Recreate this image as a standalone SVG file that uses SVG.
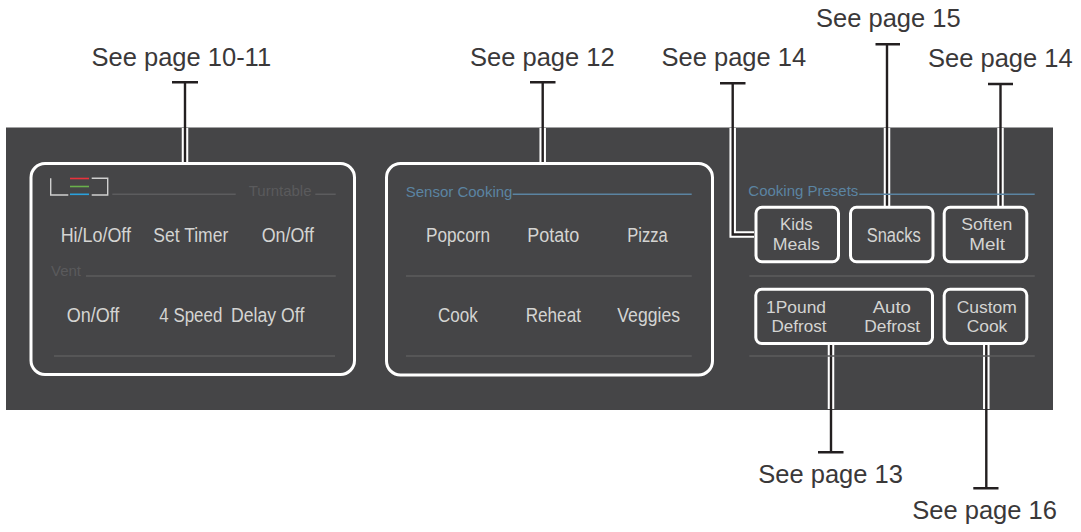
<svg xmlns="http://www.w3.org/2000/svg" width="1081" height="532" viewBox="0 0 1081 532">
<style>
.lbl{font-family:"Liberation Sans",Arial,sans-serif;font-size:25.5px;fill:#3a3839}
.btn{font-family:"Liberation Sans",Arial,sans-serif;font-size:19.5px;fill:#d4d4d2;text-anchor:middle}
.btn2{font-family:"Liberation Sans",Arial,sans-serif;font-size:17px;fill:#d4d4d2;text-anchor:middle}
.dim{font-family:"Liberation Sans",Arial,sans-serif;font-size:15px;fill:#5a5a5c}
.blue{font-family:"Liberation Sans",Arial,sans-serif;font-size:15px;fill:#5b84a2}
.box{fill:none;stroke:#ffffff;stroke-width:3}
.sep{stroke:#5c5c5e;stroke-width:1.4;fill:none}
.bsep{stroke:#5b84a2;stroke-width:1.6;fill:none}
.halo{stroke:#ffffff;stroke-width:6.5;fill:none}
.wire{stroke:#231f20;stroke-width:2.4;fill:none}
.tick{stroke:#231f20;stroke-width:2.4;fill:none}
</style>
<rect x="0" y="0" width="1081" height="532" fill="#ffffff"/>
<rect id="panel" x="6" y="127.5" width="1047" height="282.5" fill="#454547"/>

<g id="connectors">
  <path class="halo" d="M185 128V162 M542.7 128V162 M732.7 128V234.5H754 M887 128V206 M1000.5 128V206 M831 345V409 M986.3 345V409"/>
  <path class="wire" d="M185 82V162 M542.7 82V162 M732.7 83V234.5H754 M887 44.3V206 M1000.5 84V206 M831 345V452.3 M986.3 345V488.3"/>
  <path class="tick" d="M172 82.3H198 M530 82.3H555.5 M720 83.3H745.5 M875.5 44.3H900 M988 84H1013 M818 452.3H843.5 M973.3 488.3H998.5"/>
</g>

<g id="labels">
  <text class="lbl" x="91.5" y="66">See page 10-11</text>
  <text class="lbl" x="470" y="66">See page 12</text>
  <text class="lbl" x="661.5" y="66">See page 14</text>
  <text class="lbl" x="816" y="26.7">See page 15</text>
  <text class="lbl" x="928" y="66.7">See page 14</text>
  <text class="lbl" x="758.3" y="483.3">See page 13</text>
  <text class="lbl" x="912.3" y="519.3">See page 16</text>
</g>

<g id="vent-group">
  <rect class="box" x="31" y="163.5" width="323.5" height="211" rx="14"/>
  <path d="M50.7 178.3V195H68.3 M91.7 178.3H107.7V195H91.7" stroke="#cfcfcf" stroke-width="1.4" fill="none"/>
  <path d="M70 178.5H89" stroke="#e8323c" stroke-width="1.6"/>
  <path d="M70 186.5H89" stroke="#6ab04c" stroke-width="1.6"/>
  <path d="M70 194.3H89" stroke="#2aa1dc" stroke-width="1.6"/>
  <path class="sep" d="M112.3 194.3H235.7 M315.3 194.3H335.7 M86 276H335.7 M54 356H335"/>
  <text class="dim" x="248.7" y="195.7">Turntable</text>
  <text class="dim" x="51" y="276">Vent</text>
  <text class="btn" x="95.8" y="241.7" textLength="70.3" lengthAdjust="spacingAndGlyphs">Hi/Lo/Off</text>
  <text class="btn" x="190.8" y="241.7" textLength="75" lengthAdjust="spacingAndGlyphs">Set Timer</text>
  <text class="btn" x="287.8" y="241.7" textLength="52.3" lengthAdjust="spacingAndGlyphs">On/Off</text>
  <text class="btn" x="93" y="322.3" textLength="52.7" lengthAdjust="spacingAndGlyphs">On/Off</text>
  <text class="btn" x="190.8" y="322.3" textLength="63" lengthAdjust="spacingAndGlyphs">4 Speed</text>
  <text class="btn" x="267.7" y="322.3" textLength="73.3" lengthAdjust="spacingAndGlyphs">Delay Off</text>
</g>

<g id="sensor-group">
  <rect class="box" x="386.5" y="163.5" width="326" height="211.5" rx="14"/>
  <text class="blue" x="405.7" y="196.7">Sensor Cooking</text>
  <path class="bsep" d="M512.7 194.3H691.7"/>
  <path class="sep" d="M406 276H691.7 M406 356H691.7"/>
  <text class="btn" x="458" y="241.7" textLength="64" lengthAdjust="spacingAndGlyphs">Popcorn</text>
  <text class="btn" x="553.3" y="241.7" textLength="52" lengthAdjust="spacingAndGlyphs">Potato</text>
  <text class="btn" x="647.5" y="241.7" textLength="40.4" lengthAdjust="spacingAndGlyphs">Pizza</text>
  <text class="btn" x="457.8" y="322.3" textLength="39.7" lengthAdjust="spacingAndGlyphs">Cook</text>
  <text class="btn" x="553.3" y="322.3" textLength="55.3" lengthAdjust="spacingAndGlyphs">Reheat</text>
  <text class="btn" x="648.7" y="322.3" textLength="62.7" lengthAdjust="spacingAndGlyphs">Veggies</text>
</g>

<g id="presets">
  <text class="blue" x="748.3" y="195.7">Cooking Presets</text>
  <path class="bsep" d="M859.3 194.3H1034.7"/>
  <path class="sep" d="M749.3 276H1034.7 M749.3 356H1034.7"/>
</g>

<g id="kids-meals">
  <rect class="box" x="756" y="207.2" width="82.5" height="54.6" rx="6"/>
  <text class="btn2" x="796.3" y="230.2" textLength="32.7" lengthAdjust="spacingAndGlyphs">Kids</text>
  <text class="btn2" x="796.3" y="249.9" textLength="47.3" lengthAdjust="spacingAndGlyphs">Meals</text>
</g>
<g id="snacks">
  <rect class="box" x="850.5" y="207.2" width="82.5" height="54.6" rx="6"/>
  <text class="btn" x="893.7" y="242" textLength="54" lengthAdjust="spacingAndGlyphs">Snacks</text>
</g>
<g id="soften-melt">
  <rect class="box" x="944.2" y="207.2" width="82.6" height="54.6" rx="6"/>
  <text class="btn2" x="986.8" y="230.2" textLength="51" lengthAdjust="spacingAndGlyphs">Soften</text>
  <text class="btn2" x="987.2" y="249.9" textLength="35.7" lengthAdjust="spacingAndGlyphs">Melt</text>
</g>
<g id="defrost">
  <rect class="box" x="755.8" y="289.2" width="176.7" height="54.3" rx="6"/>
  <text class="btn2" x="796" y="312.5" textLength="60" lengthAdjust="spacingAndGlyphs">1Pound</text>
  <text class="btn2" x="799" y="332.2" textLength="55" lengthAdjust="spacingAndGlyphs">Defrost</text>
  <text class="btn2" x="891.8" y="312.5" textLength="38.3" lengthAdjust="spacingAndGlyphs">Auto</text>
  <text class="btn2" x="892.2" y="332.2" textLength="56" lengthAdjust="spacingAndGlyphs">Defrost</text>
</g>
<g id="custom-cook">
  <rect class="box" x="944.2" y="289.2" width="82.6" height="54.3" rx="6"/>
  <text class="btn2" x="986.8" y="312.5" textLength="60.3" lengthAdjust="spacingAndGlyphs">Custom</text>
  <text class="btn2" x="987" y="332.2" textLength="40.7" lengthAdjust="spacingAndGlyphs">Cook</text>
</g>
</svg>
